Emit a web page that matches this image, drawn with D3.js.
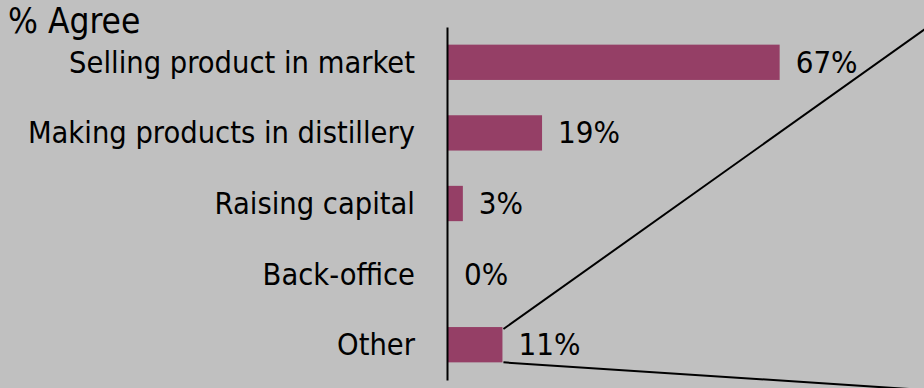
<!DOCTYPE html>
<html>
<head>
<meta charset="utf-8">
<script src="https://cdn.jsdelivr.net/npm/d3@7"></script>
<style>
  html, body { margin: 0; padding: 0; background: #c0c0c0; }
  svg { display: block; }
  text { font-family: "DejaVu Sans Condensed", "DejaVu Sans", sans-serif; fill: #000; }
</style>
</head>
<body>
<div id="chart"></div>
<script>
// chart data
var categories = ["Selling product in market", "Making products in distillery",
  "Raising capital", "Back-office", "Other"];
var values = [67, 19, 3, 0, 11];
var valueLabels = ["67%", "19%", "3%", "0%", "11%"];
var title = "% Agree";

var width = 924, height = 388;

var svg = d3.select("#chart").append("svg")
  .attr("width", width)
  .attr("height", height);

svg.append("rect")
  .attr("width", width)
  .attr("height", height)
  .style("fill", "#c0c0c0");

var x = d3.scaleLinear()
  .domain([0, 100])
  .range([448, 943]);

var y = d3.scaleBand()
  .domain(categories)
  .range([27, 380])
  .paddingInner(0.5)
  .paddingOuter(0.25);

// bars
svg.append("g").attr("class", "bars")
  .selectAll("rect")
  .data(categories)
  .join("rect")
  .attr("x", x(0))
  .attr("y", (d) => y(d))
  .attr("width", (d, i) => x(values[i]) - x(0))
  .attr("height", y.bandwidth())
  .style("fill", "#953f66");

// value labels
svg.append("g").attr("class", "values")
  .selectAll("text")
  .data(categories)
  .join("text")
  .attr("x", (d, i) => x(values[i]) + 16)
  .attr("y", (d) => y(d) + y.bandwidth() / 2 + 10.5)
  .style("font-size", "31px")
  .text((d, i) => valueLabels[i]);

// y axis (line only, labels drawn by the axis)
var yAxis = d3.axisLeft(y).tickSize(0).tickPadding(32);
var ag = svg.append("g")
  .attr("class", "y axis")
  .attr("transform", `translate(${x(0) - 1},0)`)
  .call(yAxis);
ag.select(".domain").attr("stroke", "#000").attr("stroke-width", 2);
ag.selectAll(".tick text")
  .attr("dy", null)
  .attr("y", 10.5)
  .style("font-size", "30.5px");
ag.attr("font-family", null).attr("font-size", null);

// title
svg.append("text")
  .attr("x", 8)
  .attr("y", 33)
  .style("font-size", "35px")
  .text(title);

// connector lines from the "Other" bar
var last = categories[categories.length - 1];
var bx = x(values[values.length - 1]) + 1;
var target = 970;
svg.append("line")
  .attr("x1", bx).attr("y1", y(last) + 2)
  .attr("x2", target).attr("y2", -3)
  .attr("stroke", "#000").attr("stroke-width", 2);
svg.append("line")
  .attr("x1", bx).attr("y1", y(last) + y.bandwidth())
  .attr("x2", target).attr("y2", 393)
  .attr("stroke", "#000").attr("stroke-width", 2);
</script>
</body>
</html>
